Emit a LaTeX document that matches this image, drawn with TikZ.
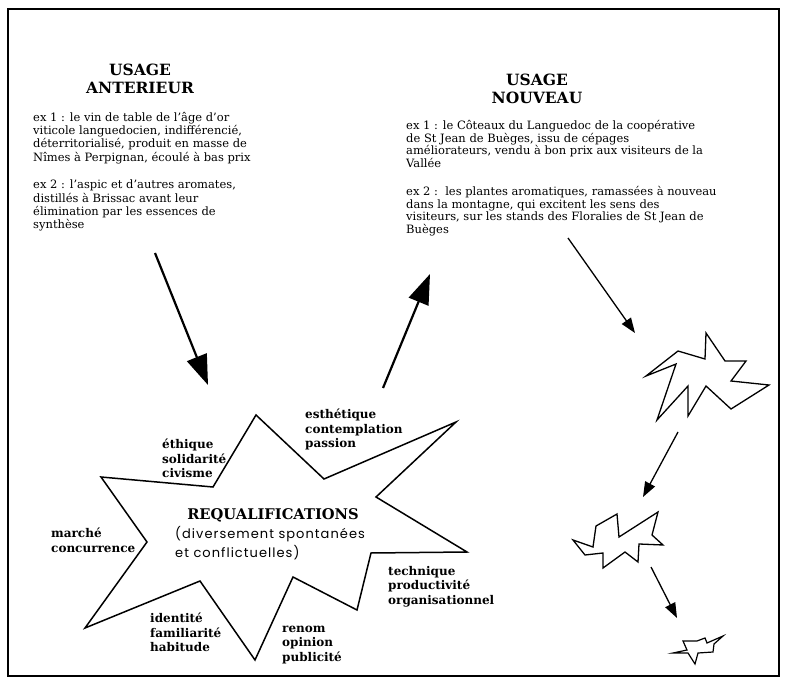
\documentclass[tikz,border=0pt]{standalone}
\usepackage{fontspec}
\setmainfont{DejaVu Serif}
\newfontfamily\sansrond[LetterSpace=8]{Poppins}
\usetikzlibrary{arrows.meta}

\begin{document}
\begin{tikzpicture}[x=1pt,y=-1pt,
  titre/.style={font=\bfseries\fontsize{15.5}{18}\selectfont,align=center,inner sep=0pt},
  texte/.style={font=\fontsize{11.5}{13.3}\selectfont,align=left,anchor=north west,inner sep=0pt},
  qualif/.style={font=\bfseries\fontsize{12}{14.5}\selectfont,align=left,anchor=north west,inner sep=0pt},
  fleche/.style={line width=2.2pt,-{Triangle[length=30pt,width=21pt]}},
  petitefleche/.style={line width=1.3pt,-{Triangle[length=15pt,width=11pt]}},
  etoile/.style={line width=1.5pt,line join=miter}]
\useasboundingbox (0,0) rectangle (789,684);
\draw[line width=2pt] (8,9) rectangle (779,676);
%usage anterieur
\node[titre] (titreAncien) at (140,78.5) {USAGE\\ANTERIEUR};
\node[texte] (exAncien1) at (33,112) {ex 1 : le vin de table de l'âge d'or\\viticole languedocien, indifférencié,\\déterritorialisé, produit en masse de\\Nîmes à Perpignan, écoulé à bas prix};
\node[texte] (exAncien2) at (33,180) {ex 2 : l'aspic et d'autres aromates,\\distillés à Brissac avant leur\\élimination par les essences de\\synthèse};
%usage nouveau
\node[titre] (titreNouveau) at (537,89) {USAGE\\NOUVEAU};
\node[texte,font=\fontsize{11.5}{12.8}\selectfont] (exNouveau1) at (406,120) {ex 1 : le Côteaux du Languedoc de la coopérative\\de St Jean de Buèges, issu de cépages\\améliorateurs, vendu à bon prix aux visiteurs de la\\Vallée};
\node[texte,font=\fontsize{11.5}{12.8}\selectfont] (exNouveau2) at (406,186) {ex 2 :\ \ les plantes aromatiques, ramassées à nouveau\\dans la montagne, qui excitent les sens des\\visiteurs, sur les stands des Floralies de St Jean de\\Buèges};
%grande etoile
\draw[etoile] (256,415) -- (324,479) -- (456,422) -- (376,497) -- (467,552) -- (371,553)
  -- (357,610) -- (293,577) -- (255,660) -- (200,581) -- (85,628) -- (147,542)
  -- (101,477) -- (213,487) -- cycle;
\node[font=\bfseries\fontsize{14.7}{18}\selectfont,inner sep=0pt] (requal) at (273,515) {REQUALIFICATIONS};
\node[font=\sansrond\fontsize{13}{19}\selectfont,align=left,anchor=north west,inner sep=0pt] (requalSous) at (175,526.5) {(diversement spontanées\\et conflictuelles)};
\node[qualif] (ethique) at (162,439) {éthique\\solidarité\\civisme};
\node[qualif] (esthetique) at (305,409) {esthétique\\contemplation\\passion};
\node[qualif] (marche) at (51,528) {marché\\concurrence};
\node[qualif] (technique) at (388,566) {technique\\productivité\\organisationnel};
\node[qualif] (identite) at (150,613) {identité\\familiarité\\habitude};
\node[qualif] (renom) at (282,625.5) {renom\\opinion\\publicité};
%fleches
\coordinate (hautGauche) at (155,253);
\coordinate (basGauche) at (208,385);
\coordinate (basDroite) at (383,388);
\coordinate (hautDroite) at (430,274);
\draw[fleche] (hautGauche) -- (basGauche);
\draw[fleche] (basDroite) -- (hautDroite);
%petites etoiles
\coordinate (depart1) at (568,238);
\coordinate (arrivee1) at (635,333);
\coordinate (depart2) at (678,432);
\coordinate (arrivee2) at (643,497);
\coordinate (depart3) at (651,567);
\coordinate (arrivee3) at (677,618);
\draw[petitefleche] (depart1) -- (arrivee1);
\draw[petitefleche] (depart2) -- (arrivee2);
\draw[petitefleche] (depart3) -- (arrivee3);
\draw[etoile,line width=1.3pt] (646,376) -- (678,351) -- (705,359) -- (706,333) -- (725,361)
  -- (746,361) -- (731,381) -- (769,385) -- (731,409) -- (706,386) -- (688,416)
  -- (688,386) -- (657,420) -- (676,364) -- cycle;
\draw[etoile,line width=1.3pt] (573,540) -- (593,547) -- (596,526) -- (617,514) -- (619,537)
  -- (658,512) -- (652,535) -- (663,545) -- (639,544) -- (638,562) -- (625,552)
  -- (603,568) -- (603,553) -- (585,555) -- cycle;
\draw[etoile,line width=1.2pt] (673,653) -- (687,650) -- (683,641) -- (697,641) -- (705,638)
  -- (707,643) -- (723,636) -- (714,644) -- (713,652) -- (698,653) -- (695,664)
  -- (688,653) -- cycle;
\end{tikzpicture}
\end{document}
